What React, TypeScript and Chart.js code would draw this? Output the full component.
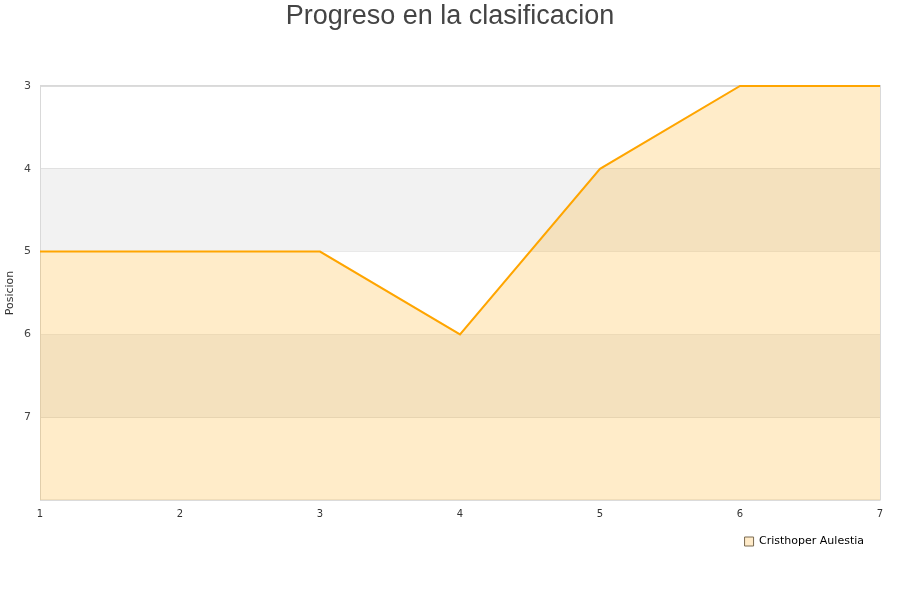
import React, { useEffect, useRef } from "react";
import { Chart, registerables } from "chart.js";

Chart.register(...registerables);

const TITLE = "Progreso en la clasificacion";
const ROUNDS = ["1", "2", "3", "4", "5", "6", "7"];
const PLAYER = "Cristhoper Aulestia";
const POSITIONS = [5, 5, 5, 6, 4, 3, 3];
const Y_MIN = 3;
const Y_MAX = 8;
const BANDS = [[4, 5], [6, 7]];

const FONT = "'DejaVu Sans', sans-serif";

const decorPlugin = {
  id: "decor",
  beforeDatasetsDraw(chart: any) {
    const { ctx, chartArea, scales } = chart;
    const y = scales.y;
    ctx.save();
    ctx.fillStyle = "#f2f2f2";
    for (const [a, b] of BANDS) {
      const y1 = y.getPixelForValue(a);
      const y2 = y.getPixelForValue(b);
      ctx.fillRect(chartArea.left, Math.min(y1, y2), chartArea.right - chartArea.left, Math.abs(y2 - y1));
    }
    ctx.strokeStyle = "#d9d9d9";
    ctx.lineWidth = 1;
    ctx.strokeRect(chartArea.left + 0.5, chartArea.top - 0.5, chartArea.right - chartArea.left, chartArea.bottom - chartArea.top + 0.5);
    ctx.restore();
  },
  afterDraw(chart: any) {
    const { ctx } = chart;
    ctx.save();
    ctx.fillStyle = "#444444";
    ctx.font = "27px 'Liberation Sans', Arial, sans-serif";
    ctx.textAlign = "center";
    ctx.textBaseline = "alphabetic";
    ctx.fillText(TITLE, chart.width / 2, 24);
    ctx.restore();
  },
};

export default function App() {
  const ref = useRef<HTMLCanvasElement | null>(null);

  useEffect(() => {
    if (!ref.current) return;
    const chart = new Chart(ref.current, {
      type: "line",
      data: {
        labels: ROUNDS,
        datasets: [
          {
            label: PLAYER,
            data: POSITIONS,
            borderColor: "#ffa500",
            borderWidth: 2,
            backgroundColor: "rgba(255,165,0,0.21)",
            fill: { value: Y_MAX },
            tension: 0,
            pointRadius: 0,
            pointHoverRadius: 0,
            clip: 3,
          },
        ],
      },
      options: {
        responsive: false,
        animation: false,
        layout: { padding: { top: 86, right: 20, bottom: 43, left: 0 } },
        plugins: {
          title: { display: false },
          tooltip: { enabled: false },
          legend: {
            display: true,
            position: "bottom",
            align: "end",
            labels: {
              boxWidth: 9,
              boxHeight: 9,
              padding: 16,
              color: "#222",
              font: { family: FONT, size: 11 },
              generateLabels: () => [
                {
                  text: PLAYER,
                  fillStyle: "#ffebc9",
                  strokeStyle: "#7a6a50",
                  lineWidth: 1,
                  datasetIndex: 0,
                },
              ],
            },
          },
        },
        scales: {
          x: {
            type: "category",
            offset: false,
            grid: { display: false },
            border: { display: false },
            ticks: { color: "#333", font: { family: FONT, size: 10 }, padding: 0, maxRotation: 0 },
            afterFit(scale: any) {
              scale.height = 20;
            },
          },
          y: {
            reverse: true,
            min: Y_MIN,
            max: Y_MAX,
            border: { display: false },
            grid: { color: "#dcdcdc", drawTicks: false },
            ticks: {
              stepSize: 1,
              color: "#444",
              padding: 9,
              font: { family: FONT, size: 11 },
              callback: (v: any) => (v === Y_MAX ? "" : String(v)),
            },
            title: {
              display: true,
              text: "Posicion",
              color: "#333",
              font: { family: FONT, size: 11 },
              padding: { top: 4, bottom: 0 },
            },
            afterFit(scale: any) {
              scale.width = 40;
            },
          },
        },
      },
      plugins: [decorPlugin],
    });
    return () => chart.destroy();
  }, []);

  return (
    <div style={{ position: "absolute", left: 0, top: 0, width: 900, height: 600, background: "#fff" }}>
      <canvas ref={ref} width={900} height={600} style={{ display: "block" }} />
    </div>
  );
}
